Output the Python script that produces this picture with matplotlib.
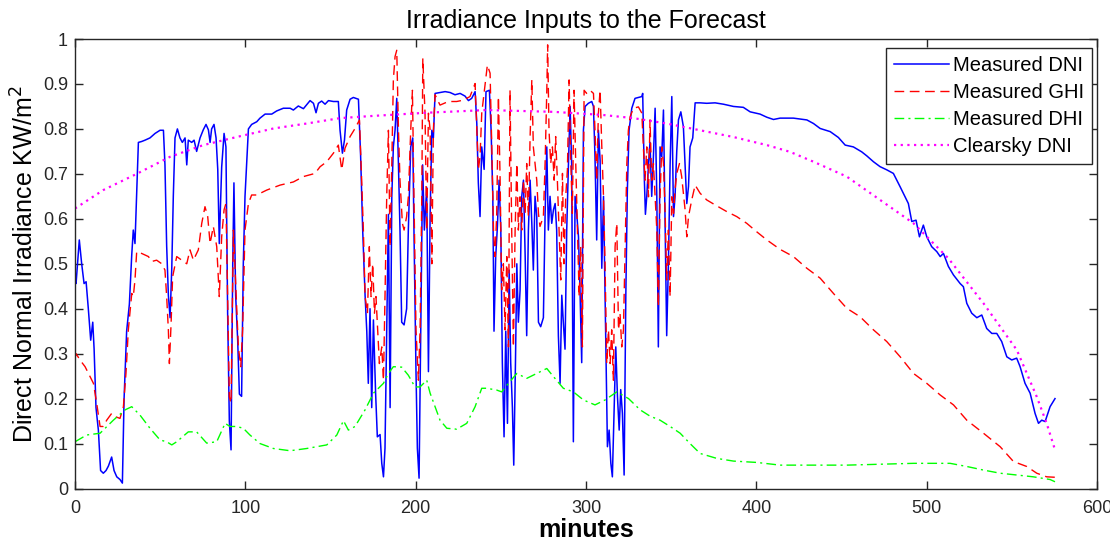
import numpy as np
import matplotlib
matplotlib.use("Agg")
import matplotlib.pyplot as plt

plt.rcParams['font.family'] = ['Liberation Sans', 'DejaVu Sans']

# ---- data (minutes, kW/m^2) ----
dni_t = [0, 0.6, 2.5, 3.9, 5.3, 6.5, 7.8, 9.2, 10.4, 11.2, 12.3, 13.7, 15, 16.6, 18.2, 19.6, 21.5, 22.9,
         24.5, 26.4, 27.8, 28.8, 30.3, 31.9, 33.3, 34.2, 35.2, 36.2, 37.2, 39.1, 41.1, 44, 47, 49.9, 51.9,
         52.8, 53.8, 54.8, 55.8, 56.8, 57.7, 58.7, 60.1, 61.6, 63, 64.6, 65.6, 66.5, 68.5, 69.9, 71.4, 73.4,
         75.3, 76.9, 78.3, 79.3, 80.2, 81.6, 82.8, 83.8, 84.7, 86.1, 87.5, 88.6, 89.6, 90.6, 91.6, 92.6,
         93.3, 94.3, 95.5, 96.5, 97.8, 98.8, 99.8, 101.8, 103.7, 106.7, 108.6, 111.6, 115.5, 118.4, 122.3,
         126.3, 128.2, 131.1, 134.1, 138, 140, 141.5, 142.9, 144.8, 146.8, 148.8, 151.7, 154.6, 155.6, 157,
         158.2, 159.5, 161.5, 163.4, 166.4, 167.7, 168.9, 170.3, 171.3, 172.2, 173.2, 174.2, 175.2, 176.5,
         177.5, 179.1, 180.1, 181.1, 182, 183, 184, 185, 186, 186.9, 187.9, 188.9, 189.9, 190.8, 191.8,
         193.2, 194.7, 195.7, 197.1, 198.3, 199, 200.2, 201, 202, 203, 204.1, 205.1, 206.5, 207.5, 208.5,
         209.5, 210.4, 211.4, 214.3, 217.3, 220.2, 223.1, 226.1, 229, 231, 232.9, 234.9, 235.9, 236.8,
         237.8, 238.8, 240.2, 241.3, 243.3, 244.3, 245.3, 246, 247, 248, 249, 250, 250.9, 251.9, 252.9,
         253.9, 254.9, 255.8, 256.8, 257.6, 258.6, 259.4, 260.3, 261.3, 262.3, 263.3, 264.3, 265.2, 266.2,
         267.2, 268.2, 269.1, 270.1, 271.1, 272.1, 273.4, 275, 276, 277, 277.9, 278.9, 279.9, 280.9, 281.9,
         282.8, 283.8, 284.8, 285.8, 286.7, 287.7, 288.7, 289.7, 290.7, 291.6, 292.6, 293.6, 294.6, 295.6,
         296.5, 297.5, 298.5, 299.5, 301.4, 303.4, 304.4, 305.3, 306.3, 307.3, 308.3, 309.3, 310.3, 311.2,
         311.8, 312.6, 313.6, 314.6, 315.5, 316.5, 317.5, 318.5, 319.5, 320.4, 321.4, 322.4, 323.4, 324.3,
         325.3, 326.9, 328.8, 332.8, 333.3, 333.7, 334.3, 334.9, 335.7, 336.7, 337.6, 338.6, 339.6, 340.6,
         341.6, 342.5, 343.5, 344.5, 345.5, 346.5, 347.4, 348.4, 349.4, 350.4, 351.4, 352.3, 353.3, 354.3,
         355.7, 357.2, 358.2, 359.2, 360.2, 361.1, 362.7, 364.1, 367, 370.9, 375.8, 380.7, 386.6, 392.4,
         396.4, 402.2, 406.2, 410.1, 414, 421.8, 429.7, 433.6, 437.5, 443.4, 448.2, 452.2, 457, 461.9,
         464.9, 468.8, 472.7, 476.6, 480.5, 484.5, 489.3, 491.3, 493.8, 495.8, 498.1, 500.1, 503, 506, 508,
         509.9, 512.8, 515.8, 519.7, 521.6, 523.6, 526.5, 529.5, 532.4, 535.3, 538.3, 541.2, 544.1, 547.1,
         550, 552.9, 554.9, 557.8, 560.8, 563.7, 565.7, 567.6, 569.6, 572.5, 575.4]
dni_v = [0.46, 0.456, 0.553, 0.50, 0.456, 0.46, 0.40, 0.33, 0.37, 0.31, 0.18, 0.13, 0.04, 0.034, 0.04, 0.05,
         0.07, 0.04, 0.026, 0.02, 0.012, 0.20, 0.35, 0.41, 0.52, 0.575, 0.545, 0.66, 0.77, 0.772, 0.775, 0.78,
         0.79, 0.797, 0.797, 0.72, 0.54, 0.43, 0.38, 0.49, 0.65, 0.78, 0.80, 0.78, 0.77, 0.78, 0.72, 0.775,
         0.77, 0.775, 0.75, 0.78, 0.798, 0.81, 0.798, 0.77, 0.80, 0.81, 0.78, 0.71, 0.545, 0.715, 0.79, 0.76,
         0.39, 0.15, 0.086, 0.50, 0.68, 0.43, 0.33, 0.21, 0.205, 0.50, 0.65, 0.80, 0.81, 0.816, 0.824, 0.833,
         0.833, 0.84, 0.846, 0.846, 0.842, 0.851, 0.845, 0.863, 0.857, 0.836, 0.857, 0.862, 0.855, 0.863,
         0.861, 0.861, 0.797, 0.746, 0.775, 0.842, 0.866, 0.87, 0.866, 0.738, 0.575, 0.43, 0.35, 0.234, 0.40,
         0.18, 0.375, 0.21, 0.115, 0.12, 0.056, 0.026, 0.09, 0.35, 0.61, 0.18, 0.65, 0.76, 0.797, 0.868, 0.72,
         0.575, 0.37, 0.364, 0.40, 0.575, 0.76, 0.78, 0.575, 0.26, 0.09, 0.023, 0.35, 0.72, 0.575, 0.67, 0.26,
         0.61, 0.797, 0.78, 0.879, 0.881, 0.883, 0.881, 0.876, 0.879, 0.873, 0.863, 0.868, 0.883, 0.812, 0.68,
         0.605, 0.76, 0.71, 0.883, 0.886, 0.797, 0.65, 0.35, 0.516, 0.583, 0.686, 0.575, 0.28, 0.115, 0.35,
         0.145, 0.486, 0.28, 0.18, 0.052, 0.28, 0.50, 0.37, 0.44, 0.65, 0.686, 0.516, 0.34, 0.575, 0.686,
         0.59, 0.486, 0.65, 0.605, 0.37, 0.36, 0.38, 0.61, 0.76, 0.575, 0.65, 0.59, 0.62, 0.634, 0.575, 0.34,
         0.234, 0.43, 0.37, 0.31, 0.575, 0.72, 0.85, 0.72, 0.104, 0.65, 0.61, 0.56, 0.44, 0.28, 0.797, 0.85,
         0.857, 0.861, 0.85, 0.738, 0.553, 0.797, 0.73, 0.49, 0.65, 0.43, 0.28, 0.093, 0.13, 0.056, 0.026,
         0.167, 0.315, 0.204, 0.13, 0.22, 0.167, 0.03, 0.43, 0.664, 0.797, 0.846, 0.868, 0.872, 0.879, 0.797,
         0.686, 0.61, 0.65, 0.72, 0.77, 0.65, 0.738, 0.846, 0.65, 0.315, 0.76, 0.738, 0.842, 0.575, 0.34,
         0.50, 0.72, 0.872, 0.605, 0.65, 0.75, 0.82, 0.838, 0.805, 0.72, 0.634, 0.672, 0.76, 0.78, 0.858,
         0.858, 0.857, 0.858, 0.855, 0.85, 0.848, 0.838, 0.833, 0.826, 0.821, 0.824, 0.824, 0.82, 0.812,
         0.801, 0.794, 0.781, 0.764, 0.76, 0.749, 0.74, 0.727, 0.716, 0.709, 0.701, 0.671, 0.634, 0.594,
         0.597, 0.56, 0.586, 0.56, 0.538, 0.527, 0.516, 0.523, 0.494, 0.475, 0.456, 0.449, 0.412, 0.39,
         0.38, 0.386, 0.356, 0.345, 0.345, 0.327, 0.293, 0.286, 0.29, 0.271, 0.234, 0.212, 0.167, 0.145,
         0.152, 0.149, 0.182, 0.20]

ghi_t = [0, 0.6, 2.9, 5.9, 8.8, 10.8, 12.7, 14.7, 16.6, 18.6, 21.5, 23.5, 26.4, 28.4, 29.9, 31.3, 33.3,
         34.2, 35.2, 36.2, 39.1, 43.1, 45, 47.9, 50.9, 52.8, 53.8, 54.8, 55.4, 56.4, 57.3, 59.7, 62.6, 65.6,
         67.5, 69.5, 72.4, 74.4, 76.3, 77.9, 79.3, 81.2, 83.2, 84.7, 86.1, 87.5, 88.6, 89.6, 90.6, 91.6, 93,
         94.3, 95.9, 97.3, 98.4, 99.8, 101.8, 103.7, 106.7, 112.6, 120.4, 128.2, 134.1, 140.9, 143.9, 147.8,
         151.7, 154.6, 156.6, 158.5, 161.5, 164.4, 167, 168.3, 169.3, 170.3, 171.7, 172.8, 173.8, 174.8,
         175.8, 176.7, 177.7, 178.7, 180.1, 181.1, 182, 183, 184, 185, 186, 186.9, 187.9, 188.9, 189.9,
         190.8, 192.2, 193.2, 194.7, 195.7, 197.1, 198.1, 199, 200.2, 201.6, 202.6, 203.6, 204.2, 205.5,
         206.5, 207.5, 208.5, 209.5, 210.4, 211.4, 214.3, 219.2, 224.1, 228, 231.9, 234.9, 235.9, 236.8,
         237.8, 238.8, 240.8, 242.1, 243.7, 244.7, 245.7, 246.6, 247.6, 248.6, 249.6, 250.5, 251.5, 252.5,
         253.5, 254.5, 255.4, 256.4, 257.4, 258.4, 259.4, 260.3, 261.3, 262.3, 263.3, 264.3, 265.2, 266.2,
         267.2, 268.2, 269.1, 270.1, 271.1, 272.1, 273, 275, 276, 277, 277.5, 278.3, 279.3, 280.3, 281.3,
         282.2, 283.2, 284.2, 285.2, 286.2, 287.1, 288.1, 289.1, 290.1, 291.1, 292, 293, 294, 295, 296,
         296.9, 297.9, 298.9, 300.4, 302.4, 304.4, 305.3, 306.3, 307.3, 308.3, 309.3, 310.3, 311.2, 312.2,
         313.2, 314.2, 315.1, 316.1, 317.1, 318.1, 319.1, 320, 321, 322, 323, 324, 324.9, 325.9, 327.9,
         330.8, 332.8, 333.7, 334.7, 335.7, 336.7, 337.6, 338.6, 339.6, 340.6, 341.6, 342.5, 343.5, 344.5,
         345.5, 346.5, 347.4, 348.4, 349.4, 350.4, 351.4, 352.3, 353.3, 354.9, 356.2, 358.2, 359.2, 360.2,
         362.1, 364.1, 367, 370.9, 375.8, 382.7, 388.5, 394.4, 400.3, 406.2, 414, 421.8, 429.7, 437.5,
         445.3, 453.1, 461, 468.8, 476.6, 484.5, 492.3, 500.1, 508, 515.8, 523.6, 533.4, 543.2, 551, 558.8,
         564.7, 570.5, 575.4]
ghi_v = [0.29, 0.30, 0.286, 0.271, 0.249, 0.234, 0.19, 0.138, 0.138, 0.152, 0.167, 0.16, 0.156, 0.182,
         0.256, 0.353, 0.434, 0.427, 0.464, 0.527, 0.523, 0.516, 0.505, 0.508, 0.50, 0.486, 0.427, 0.353,
         0.278, 0.367, 0.471, 0.516, 0.508, 0.50, 0.531, 0.508, 0.531, 0.59, 0.627, 0.605, 0.545, 0.583,
         0.538, 0.427, 0.56, 0.62, 0.634, 0.427, 0.204, 0.19, 0.575, 0.456, 0.315, 0.271, 0.353, 0.575,
         0.634, 0.653, 0.653, 0.664, 0.675, 0.682, 0.694, 0.701, 0.716, 0.727, 0.746, 0.764, 0.709, 0.757,
         0.783, 0.801, 0.82, 0.686, 0.575, 0.427, 0.39, 0.538, 0.427, 0.50, 0.39, 0.427, 0.353, 0.278,
         0.315, 0.241, 0.427, 0.649, 0.797, 0.538, 0.723, 0.909, 0.961, 0.975, 0.797, 0.686, 0.59, 0.575,
         0.605, 0.649, 0.797, 0.886, 0.649, 0.353, 0.241, 0.353, 0.649, 0.957, 0.835, 0.575, 0.835, 0.797,
         0.50, 0.797, 0.876, 0.853, 0.861, 0.861, 0.864, 0.872, 0.901, 0.797, 0.709, 0.738, 0.835, 0.901,
         0.942, 0.924, 0.76, 0.575, 0.516, 0.612, 0.872, 0.686, 0.442, 0.50, 0.353, 0.516, 0.315, 0.886,
         0.575, 0.315, 0.575, 0.723, 0.575, 0.649, 0.575, 0.686, 0.612, 0.723, 0.605, 0.783, 0.909, 0.76,
         0.723, 0.686, 0.612, 0.583, 0.605, 0.723, 0.886, 0.987, 0.797, 0.723, 0.76, 0.686, 0.783, 0.686,
         0.575, 0.464, 0.701, 0.50, 0.649, 0.709, 0.909, 0.723, 0.612, 0.886, 0.723, 0.575, 0.427, 0.538,
         0.315, 0.886, 0.879, 0.886, 0.879, 0.797, 0.686, 0.835, 0.886, 0.76, 0.649, 0.50, 0.278, 0.353,
         0.278, 0.353, 0.241, 0.538, 0.59, 0.353, 0.39, 0.315, 0.353, 0.538, 0.723, 0.797, 0.827, 0.846,
         0.849, 0.835, 0.76, 0.686, 0.76, 0.649, 0.82, 0.686, 0.723, 0.649, 0.575, 0.405, 0.649, 0.76, 0.723,
         0.612, 0.464, 0.575, 0.427, 0.649, 0.612, 0.664, 0.701, 0.723, 0.694, 0.62, 0.56, 0.605, 0.642,
         0.675, 0.657, 0.642, 0.631, 0.616, 0.605, 0.59, 0.571, 0.553, 0.532, 0.516, 0.49, 0.468, 0.434,
         0.401, 0.382, 0.353, 0.327, 0.293, 0.256, 0.234, 0.208, 0.186, 0.152, 0.123, 0.093, 0.06, 0.049,
         0.034, 0.026, 0.025]

dhi_t = [0, 6.8, 14.7, 22.5, 29.4, 33.3, 38.2, 44, 49.9, 53.8, 56.8, 59.7, 66.5, 71.4, 77.3, 83.2, 88.1,
         91, 94.9, 98.8, 102.7, 108.6, 116.5, 126.3, 136, 147.8, 153.7, 157.6, 160.5, 164.4, 170.3, 175.2,
         181.1, 184, 186.9, 191.8, 195.7, 199.6, 202.6, 206.5, 208.5, 211.4, 214.3, 218.3, 224.1, 230,
         234.9, 238.8, 241.7, 247.6, 250.5, 254.5, 259.4, 265.2, 271.1, 277, 280.9, 286.7, 292.6, 298.5,
         305.3, 311.2, 318.1, 325, 331.8, 337.6, 343.5, 349.4, 355.3, 361.1, 367, 376.8, 386.6, 400.3, 414,
         453.1, 492.3, 513.8, 523.6, 533.4, 543.2, 553, 562.7, 572.5, 575.4]
dhi_v = [0.104, 0.119, 0.123, 0.152, 0.175, 0.182, 0.163, 0.134, 0.108, 0.104, 0.097, 0.104, 0.126,
         0.126, 0.101, 0.104, 0.145, 0.138, 0.138, 0.134, 0.119, 0.10, 0.089, 0.084, 0.089, 0.097, 0.119,
         0.151, 0.13, 0.138, 0.175, 0.212, 0.234, 0.256, 0.271, 0.27, 0.252, 0.226, 0.226, 0.241, 0.212,
         0.182, 0.152, 0.134, 0.132, 0.145, 0.182, 0.223, 0.223, 0.219, 0.215, 0.234, 0.256, 0.245, 0.256,
         0.267, 0.249, 0.223, 0.215, 0.197, 0.186, 0.197, 0.215, 0.20, 0.175, 0.161, 0.152, 0.138, 0.123,
         0.10, 0.078, 0.067, 0.061, 0.058, 0.052, 0.052, 0.056, 0.056, 0.049, 0.041, 0.034, 0.03, 0.026,
         0.02, 0.015]

clr_t = [0, 16.6, 36.2, 55.8, 75.3, 94.9, 116.5, 136, 155.6, 175.2, 206.5, 241.7, 280.9, 310, 327.9,
         347.4, 367, 386.6, 406.2, 419.8, 433.6, 453.1, 472.7, 492.3, 512.8, 533.4, 553, 564.7, 570.5, 575.4]
clr_v = [0.623, 0.664, 0.70, 0.738, 0.764, 0.782, 0.801, 0.812, 0.824, 0.829, 0.836, 0.842, 0.838, 0.831,
         0.824, 0.812, 0.797, 0.782, 0.764, 0.749, 0.727, 0.694, 0.642, 0.59, 0.512, 0.412, 0.308, 0.204,
         0.145, 0.086]

fig = plt.figure(figsize=(11.1, 5.42), dpi=100)
ax = fig.add_axes([0.0676, 0.0987, 0.9206, 0.8293])

ax.plot(dni_t, dni_v, color=(0, 0, 1), lw=1.1, label='Measured DNI')
ax.plot(ghi_t, ghi_v, color=(1, 0, 0), lw=1.0, linestyle=(0, (7, 4)), label='Measured GHI')
ax.plot(dhi_t, dhi_v, color=(0, 1, 0), lw=1.0, linestyle=(0, (7, 3, 1.5, 3)), label='Measured DHI')
ax.plot(clr_t, clr_v, color=(1, 0, 1), lw=1.6, linestyle=(0, (1, 2)), label='Clearsky DNI')

ax.set_xlim(0, 600)
ax.set_ylim(0, 1)
ax.set_xticks(np.arange(0, 601, 100))
ax.set_yticks(np.arange(0, 1.01, 0.1))
ax.set_yticklabels(['0', '0.1', '0.2', '0.3', '0.4', '0.5', '0.6', '0.7', '0.8', '0.9', '1'])
ax.tick_params(direction='in', top=True, right=True, length=6, width=1, labelsize=13,
               colors='#262626', pad=5)
ax.tick_params(axis='x', pad=8)
for s in ax.spines.values():
    s.set_linewidth(1)
    s.set_color('#262626')

ax.set_title('Irradiance Inputs to the Forecast', fontsize=18, pad=8)
ax.set_xlabel('minutes', fontsize=18, fontweight='bold', labelpad=1)
ax.set_ylabel('Direct Normal Irradiance KW/m$^2$', fontsize=18, labelpad=3)

leg = ax.legend(loc='upper right', bbox_to_anchor=(0.995, 0.98), borderaxespad=0, fontsize=14.5,
                fancybox=False, framealpha=1, edgecolor='#262626', handlelength=2.7,
                handletextpad=0.2, labelspacing=0.4, borderpad=0.4)
leg.get_frame().set_linewidth(1)

fig.savefig('out.png', dpi=100)
